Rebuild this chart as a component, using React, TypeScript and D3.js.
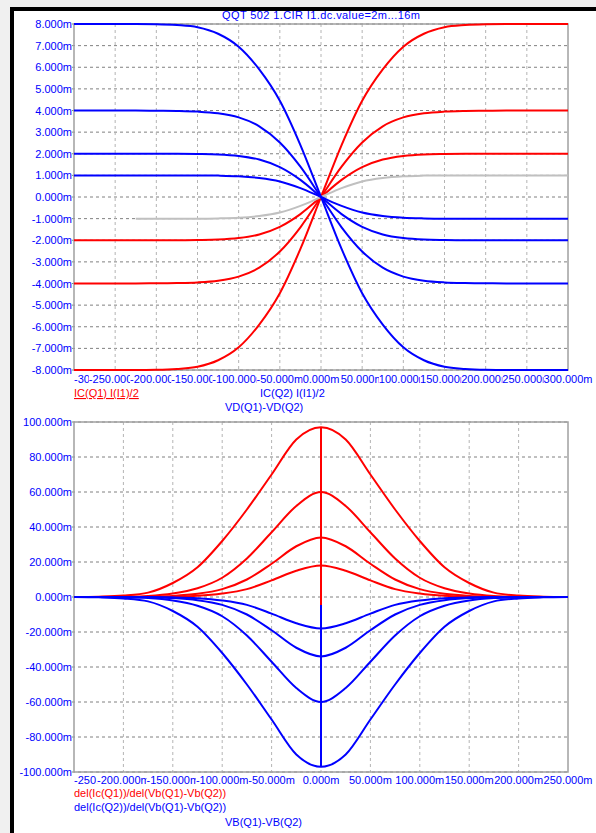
import React, { useEffect, useRef } from 'react'
import * as d3 from 'd3'

const W = 596
const H = 833
const FONT = '"Liberation Sans", Arial, sans-serif'

// ---- top panel: IC vs VD(Q1)-VD(Q2) (mV / mA) ----
const topXTicks = [-300, -250, -200, -150, -100, -50, 0, 50, 100, 150, 200, 250, 300]
const topXLabels = ['-300.000m', '-250.000m', '-200.000m', '-150.000m', '-100.000m', '-50.000m', '0.000m', '50.000m', '100.000m', '150.000m', '200.000m', '250.000m', '300.000m']
const topYTicks = [8, 7, 6, 5, 4, 3, 2, 1, 0, -1, -2, -3, -4, -5, -6, -7, -8]
const topYLabels = ['8.000m', '7.000m', '6.000m', '5.000m', '4.000m', '3.000m', '2.000m', '1.000m', '0.000m', '-1.000m', '-2.000m', '-3.000m', '-4.000m', '-5.000m', '-6.000m', '-7.000m', '-8.000m']

const vdTop = [-300, -275, -250, -225, -200, -175, -150, -125, -100, -75, -50, -25, 0, 25, 50, 75, 100, 125, 150, 175, 200, 225, 250, 275, 300]
const icQ1_16m = [-8, -8, -8, -8, -7.99, -7.95, -7.85, -7.55, -6.95, -5.9, -4.45, -2.4, 0, 2.4, 4.45, 5.9, 6.95, 7.55, 7.85, 7.95, 7.99, 8, 8, 8, 8]
const icQ2_16m = [8, 8, 8, 8, 7.99, 7.95, 7.85, 7.55, 6.95, 5.9, 4.45, 2.4, 0, -2.4, -4.45, -5.9, -6.95, -7.55, -7.85, -7.95, -7.99, -8, -8, -8, -8]
const icQ1_8m = [-4, -4, -4, -4, -3.99, -3.98, -3.95, -3.87, -3.68, -3.27, -2.52, -1.4, 0, 1.4, 2.52, 3.27, 3.68, 3.87, 3.95, 3.98, 3.99, 4, 4, 4, 4]
const icQ2_8m = [4, 4, 4, 4, 3.99, 3.98, 3.95, 3.87, 3.68, 3.27, 2.52, 1.4, 0, -1.4, -2.52, -3.27, -3.68, -3.87, -3.95, -3.98, -3.99, -4, -4, -4, -4]
const icQ1_4m = [-2, -2, -2, -2, -2, -2, -1.99, -1.97, -1.9, -1.73, -1.38, -0.79, 0, 0.79, 1.38, 1.73, 1.9, 1.97, 1.99, 2, 2, 2, 2, 2, 2]
const icQ2_4m = [2, 2, 2, 2, 2, 2, 1.99, 1.97, 1.9, 1.73, 1.38, 0.79, 0, -0.79, -1.38, -1.73, -1.9, -1.97, -1.99, -2, -2, -2, -2, -2, -2]
const icQ2_2m = [1, 1, 1, 1, 1, 1, 1, 0.99, 0.96, 0.88, 0.72, 0.41, 0, -0.41, -0.72, -0.88, -0.96, -0.99, -1, -1, -1, -1, -1, -1, -1]
// the 2m Q1 trace is shown grey and only from about -225m on
const vdGray = [-225, -200, -175, -150, -125, -100, -75, -50, -25, 0, 25, 50, 75, 100, 125, 150, 175, 200, 225, 250, 275, 300]
const icQ1_2m = [-1, -1, -1, -1, -0.99, -0.96, -0.88, -0.72, -0.41, 0, 0.41, 0.72, 0.88, 0.96, 0.99, 1, 1, 1, 1, 1, 1, 1]

// ---- bottom panel: derivative vs VB(Q1)-VB(Q2) ----
const botXTicks = [-250, -200, -150, -100, -50, 0, 50, 100, 150, 200, 250]
const botXLabels = ['-250.000m', '-200.000m', '-150.000m', '-100.000m', '-50.000m', '0.000m', '50.000m', '100.000m', '150.000m', '200.000m', '250.000m']
const botYTicks = [100, 80, 60, 40, 20, 0, -20, -40, -60, -80, -100]
const botYLabels = ['100.000m', '80.000m', '60.000m', '40.000m', '20.000m', '0.000m', '-20.000m', '-40.000m', '-60.000m', '-80.000m', '-100.000m']

const vbBot = [-250, -225, -200, -175, -150, -125, -100, -75, -50, -25, 0, 25, 50, 75, 100, 125, 150, 175, 200, 225, 250]
const gQ1_16m = [0, 0.2, 0.8, 2.5, 8, 17, 32, 50, 70, 90, 97, 90, 70, 50, 32, 17, 8, 2.5, 0.8, 0.2, 0]
const gQ1_8m = [0, 0, 0.15, 0.6, 2, 5, 11, 22, 37, 52, 60, 52, 37, 22, 11, 5, 2, 0.6, 0.15, 0, 0]
const gQ1_4m = [0, 0, 0, 0.2, 0.6, 1.8, 4.5, 10, 19, 29, 34, 29, 19, 10, 4.5, 1.8, 0.6, 0.2, 0, 0, 0]
const gQ1_2m = [0, 0, 0, 0, 0.2, 0.7, 2, 4.5, 9.5, 15, 18, 15, 9.5, 4.5, 2, 0.7, 0.2, 0, 0, 0, 0]
const gQ2_16m = [0, -0.2, -0.8, -2.5, -8, -17, -32, -50, -70, -90, -97, -90, -70, -50, -32, -17, -8, -2.5, -0.8, -0.2, 0]
const gQ2_8m = [0, 0, -0.15, -0.6, -2, -5, -11, -22, -37, -52, -60, -52, -37, -22, -11, -5, -2, -0.6, -0.15, 0, 0]
const gQ2_4m = [0, 0, 0, -0.2, -0.6, -1.8, -4.5, -10, -19, -29, -34, -29, -19, -10, -4.5, -1.8, -0.6, -0.2, 0, 0, 0]
const gQ2_2m = [0, 0, 0, 0, -0.2, -0.7, -2, -4.5, -9.5, -15, -18, -15, -9.5, -4.5, -2, -0.7, -0.2, 0, 0, 0, 0]
const spikeX = [0, 0]
const spikeRed = [97, -4.6]
const spikeBlue = [-4.6, -97]

const RED = '#ff0000'
const BLUE = '#0000ff'
const GRAY = '#c0c0c0'

function panel(svg, x, y, xTicks, xLabels, yTicks, yLabels, xLabelY) {
	const [x0, x1] = x.range()
	const [y0, y1] = y.range()
	const g = svg.append('g')

	// grid
	g.selectAll('.hg')
		.data(yTicks)
		.enter()
		.append('line')
		.attr('x1', x0 - 2)
		.attr('x2', x1)
		.attr('y1', (d) => y(d))
		.attr('y2', (d) => y(d))
		.attr('stroke', '#808080')
		.attr('stroke-dasharray', '3,3')
	g.selectAll('.vg')
		.data(xTicks.slice(1, -1))
		.enter()
		.append('line')
		.attr('x1', (d) => x(d))
		.attr('x2', (d) => x(d))
		.attr('y1', y1)
		.attr('y2', y0)
		.attr('stroke', '#b4b4b4')
		.attr('stroke-dasharray', '3,3')

	g.append('rect')
		.attr('x', x0)
		.attr('y', y1)
		.attr('width', x1 - x0)
		.attr('height', y0 - y1)
		.attr('fill', 'none')
		.attr('stroke', '#a0a0a0')
		.attr('stroke-width', 1.5)

	// y labels
	g.selectAll('.yl')
		.data(yTicks)
		.enter()
		.append('text')
		.attr('x', x0 - 2)
		.attr('y', (d) => y(d) + 4)
		.attr('text-anchor', 'end')
		.attr('fill', BLUE)
		.style('font', `11px ${FONT}`)
		.text((d, i) => yLabels[i])

	// x labels, each on a white box covering the previous one
	xTicks.forEach((t, i) => {
		const lg = g.append('g')
		const bg = lg.append('rect').attr('fill', '#fff')
		const txt = lg
			.append('text')
			.attr('y', xLabelY + 4)
			.attr('fill', BLUE)
			.style('font', `11px ${FONT}`)
			.text(xLabels[i])
		const w = txt.node().getComputedTextLength()
		const left = Math.max(x0, x(t) - w / 2)
		txt.attr('x', left)
		bg.attr('x', left).attr('y', xLabelY - 6).attr('width', w).attr('height', 12)
	})
}

function curve(svg, x, y, xs, ys, color) {
	const line = d3
		.line()
		.x((d) => x(d[0]))
		.y((d) => y(d[1]))
		.curve(d3.curveMonotoneX)
	svg.append('path')
		.attr('d', line(xs.map((v, i) => [v, ys[i]])))
		.attr('fill', 'none')
		.attr('stroke', color)
		.attr('stroke-width', 2)
}

function text(svg, x, y, s, color, underline = false, spacing = 0) {
	svg.append('text')
		.attr('x', x)
		.attr('y', y)
		.attr('fill', color)
		.style('font', `11px ${FONT}`)
		.style('letter-spacing', `${spacing}px`)
		.style('text-decoration', underline ? 'underline' : 'none')
		.text(s)
}

function drawChart(el) {
	const svg = d3.select(el)
	svg.selectAll('*').remove()

	svg.append('rect').attr('width', W).attr('height', H).attr('fill', '#f0f0f0')
	svg.append('rect').attr('x', 10).attr('y', 7).attr('width', W - 10).attr('height', H - 7).attr('fill', '#fff')
	svg.append('rect').attr('x', 10).attr('y', 7).attr('width', W - 10).attr('height', 4).attr('fill', '#000')
	svg.append('rect').attr('x', 10).attr('y', 7).attr('width', 4).attr('height', H - 7).attr('fill', '#000')

	// top
	const xt = d3.scaleLinear().domain([-300, 300]).range([74, 568])
	const yt = d3.scaleLinear().domain([-8, 8]).range([370, 24])
	panel(svg, xt, yt, topXTicks, topXLabels, topYTicks, topYLabels, 379)
	curve(svg, xt, yt, vdTop, icQ1_16m, RED)
	curve(svg, xt, yt, vdTop, icQ1_8m, RED)
	curve(svg, xt, yt, vdTop, icQ1_4m, RED)
	curve(svg, xt, yt, vdGray, icQ1_2m, GRAY)
	curve(svg, xt, yt, vdTop, icQ2_16m, BLUE)
	curve(svg, xt, yt, vdTop, icQ2_8m, BLUE)
	curve(svg, xt, yt, vdTop, icQ2_4m, BLUE)
	curve(svg, xt, yt, vdTop, icQ2_2m, BLUE)

	text(svg, 222, 19, 'QQT 502 1.CIR I1.dc.value=2m...16m', BLUE, false, 0.4)
	text(svg, 74, 397, 'IC(Q1) I(I1)/2', RED, true)
	text(svg, 260, 397, 'IC(Q2) I(I1)/2', BLUE)
	text(svg, 225, 411, 'VD(Q1)-VD(Q2)', BLUE)

	// bottom
	const xb = d3.scaleLinear().domain([-250, 250]).range([74, 568])
	const yb = d3.scaleLinear().domain([-100, 100]).range([772, 422])
	panel(svg, xb, yb, botXTicks, botXLabels, botYTicks, botYLabels, 780)
	curve(svg, xb, yb, vbBot, gQ1_16m, RED)
	curve(svg, xb, yb, vbBot, gQ1_8m, RED)
	curve(svg, xb, yb, vbBot, gQ1_4m, RED)
	curve(svg, xb, yb, vbBot, gQ1_2m, RED)
	curve(svg, xb, yb, spikeX, spikeRed, RED)
	curve(svg, xb, yb, vbBot, gQ2_16m, BLUE)
	curve(svg, xb, yb, vbBot, gQ2_8m, BLUE)
	curve(svg, xb, yb, vbBot, gQ2_4m, BLUE)
	curve(svg, xb, yb, vbBot, gQ2_2m, BLUE)
	curve(svg, xb, yb, spikeX, spikeBlue, BLUE)

	text(svg, 74, 797, 'del(Ic(Q1))/del(Vb(Q1)-Vb(Q2))', RED)
	text(svg, 74, 811, 'del(Ic(Q2))/del(Vb(Q1)-Vb(Q2))', BLUE)
	text(svg, 225, 826, 'VB(Q1)-VB(Q2)', BLUE)
}

export default function App() {
	const ref = useRef(null)
	useEffect(() => {
		drawChart(ref.current)
	}, [])
	return <svg ref={ref} width={W} height={H} style={{ position: 'absolute', left: 0, top: 0 }} />
}
